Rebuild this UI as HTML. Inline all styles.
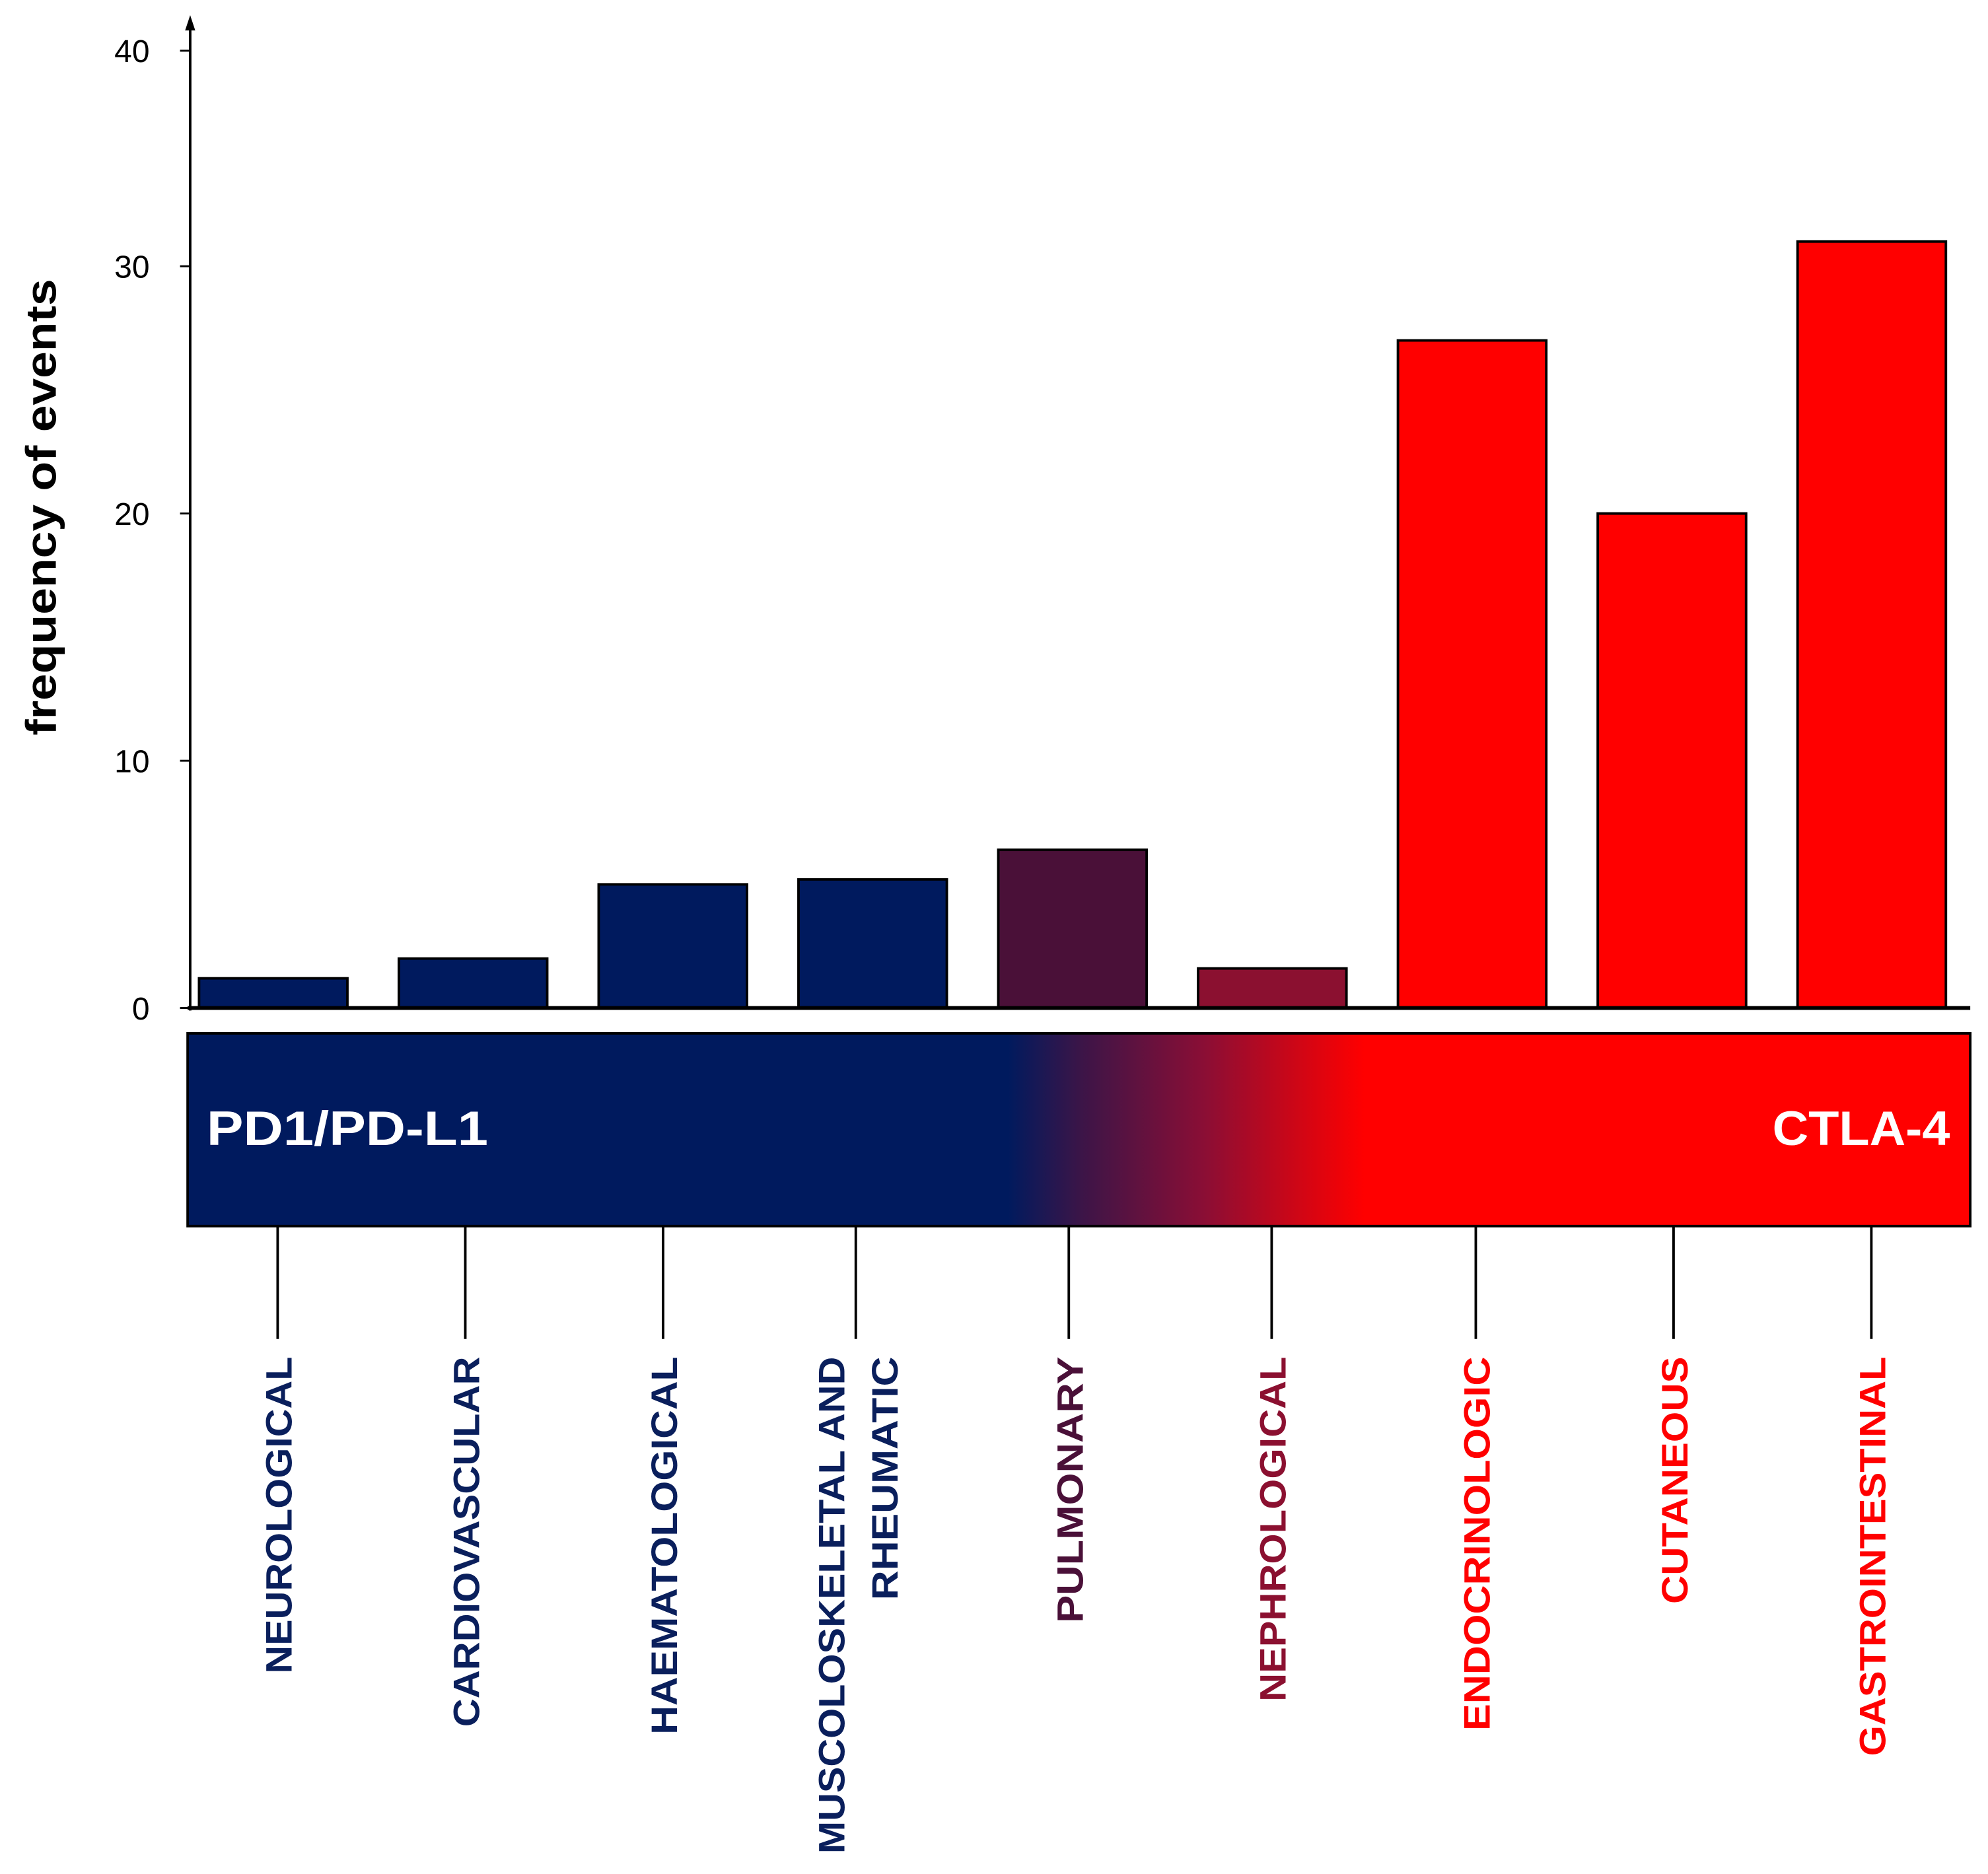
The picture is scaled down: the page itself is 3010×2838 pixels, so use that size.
<!DOCTYPE html>
<html><head><meta charset="utf-8"><style>
html,body{margin:0;padding:0;background:#fff;}
svg{display:block;}
</style></head><body>
<svg id="chart" width="3010" height="2838" viewBox="0 0 1568 1478" preserveAspectRatio="none" xmlns="http://www.w3.org/2000/svg" font-family="'Liberation Sans', sans-serif">
<defs>
<linearGradient id="band" x1="0" x2="1" y1="0" y2="0">
<stop offset="0" stop-color="#001a5e"/>
<stop offset="0.46" stop-color="#001a5e"/>
<stop offset="0.5" stop-color="#3a1548"/>
<stop offset="0.57" stop-color="#8a0e35"/>
<stop offset="0.66" stop-color="#ff0000"/>
<stop offset="1" stop-color="#ff0000"/>
</linearGradient>
</defs>
<g id="bars"></g>
<g id="axes"></g>
<rect x="148" y="815" width="1406" height="152" fill="url(#band)" stroke="#000" stroke-width="2"/>
<text x="163" y="903" fill="#fff" font-size="38" font-weight="bold" textLength="222" lengthAdjust="spacingAndGlyphs">PD1/PD-L1</text>
<text x="1398" y="903" fill="#fff" font-size="38" font-weight="bold" textLength="140" lengthAdjust="spacingAndGlyphs">CTLA-4</text>
<g id="cats"></g>
<text transform="translate(44,400) rotate(-90)" text-anchor="middle" font-size="34" font-weight="bold" fill="#000" textLength="360" lengthAdjust="spacingAndGlyphs">frequency of events</text>
</svg>
<script>
const categories = ["NEUROLOGICAL","CARDIOVASCULAR","HAEMATOLOGICAL","MUSCOLOSKELETAL AND|RHEUMATIC","PULMONARY","NEPHROLOGICAL","ENDOCRINOLOGIC","CUTANEOUS","GASTROINTESTINAL"];
const values = [1.2, 2, 5, 5.2, 6.4, 1.6, 27, 20, 31];
const colors = ["#001a5e","#001a5e","#001a5e","#001a5e","#4a1038","#8b1030","#ff0000","#ff0000","#ff0000"];
const labelColors = ["#0a1f5c","#0a1f5c","#0a1f5c","#0a1f5c","#4a1038","#8b1030","#ff0000","#ff0000","#ff0000"];
const tickValues = [0, 10, 20, 30, 40];
const tickLabels = ["0","10","20","30","40"];
const NS = "http://www.w3.org/2000/svg";
function y(v){ return 795 - v * 19.5; }
function xBar(i){ return 157 + i * 157.6; }
const BW = 117;
const tickX = [219, 367, 523, 675, 843, 1003, 1164, 1320, 1476];
const labelLen = [[250],[292],[298],[392,192],[210],[272],[295],[195],[315]];
function mk(tag, attrs, parent){ const e=document.createElementNS(NS,tag); for(const k in attrs) e.setAttribute(k,attrs[k]); parent.appendChild(e); return e; }
const bars = document.getElementById('bars');
values.forEach((v,i)=>{
  const r = mk('rect',{x:xBar(i),y:y(v),width:BW,height:795-y(v),fill:colors[i],stroke:'#000','stroke-width':2},bars);
  
  
});
const axes = document.getElementById('axes');
let l = mk('line',{x1:150,y1:797,x2:150,y2:22,stroke:'#000','stroke-width':2},axes);


let a = mk('polygon',{points:'150,12 146,24 154,24',fill:'#000'},axes);


let xl = mk('line',{x1:148,y1:795,x2:1554,y2:795,stroke:'#000','stroke-width':3},axes);


tickValues.forEach((t,i)=>{
  const yy = t===40 ? 40 : y(t);
  const tl = mk('line',{x1:142,y1:yy,x2:150,y2:yy,stroke:'#000','stroke-width':1.5},axes);
  
  
  const tx = mk('text',{x:118,y:yy+9,'text-anchor':'end','font-size':25,fill:'#000'},axes);
  tx.textContent = tickLabels[i];
  
  
});
const cats = document.getElementById('cats');
categories.forEach((c,i)=>{
  const x = tickX[i];
  const ln = mk('line',{x1:x,y1:967,x2:x,y2:1056,stroke:'#000','stroke-width':2},cats);
  
  
  const parts = c.split('|');
  parts.forEach((p,j)=>{
    const off = parts.length>1 ? (j===0 ? -20 : 22) : 0;
    const t = mk('text',{transform:`translate(${x+off+11},1070) rotate(-90)`,'text-anchor':'end','font-size':29,'font-weight':'bold',fill:labelColors[i],textLength:labelLen[i][j],lengthAdjust:'spacingAndGlyphs'},cats);
    t.textContent = p;
    
    
  });
});
</script>
</body></html>
